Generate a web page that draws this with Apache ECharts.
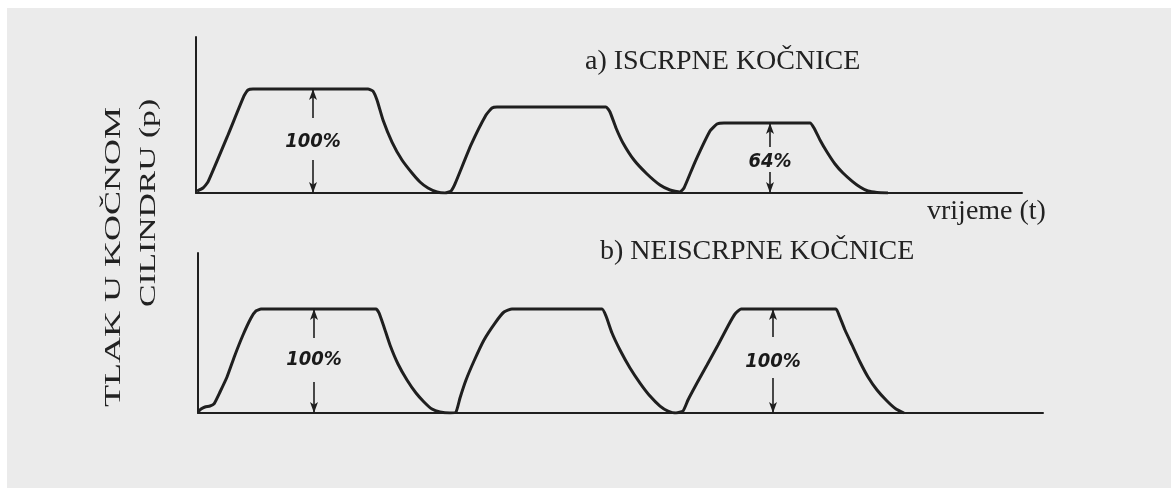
<!DOCTYPE html>
<html><head><meta charset="utf-8">
<script src="https://cdn.jsdelivr.net/npm/echarts@6/dist/echarts.min.js"></script>
<style>html,body{margin:0;padding:0;background:#fff}#c{width:1171px;height:491px}</style>
</head><body><div id="c"></div><script>
// a) ISCRPNE KOČNICE
const timeA = [0.1,0.7,1.2,3.2,4.8,5.2,5.7,17.2,17.7,18.1,18.7,19.6,20.6,21.6,22.4,23.2,24.1,24.9,25.5,25.9,27.5,29.0,29.6,30.1,41.0,41.4,42.0,42.7,43.8,45.1,46.4,47.4,48.4,48.8,49.9,51.4,52.1,52.8,61.4,61.8,62.4,63.1,63.9,64.7,65.6,66.4,67.2,68.1,69.2];
const pressA = [1.9,4.8,10.6,55.8,93.3,99,100,100,98,89.4,70.2,49.0,31.7,19.2,10.6,4.8,1.0,0,1.9,8.7,46.2,75.0,81.7,82.7,82.7,77.9,62.5,48.1,31.7,18.3,7.7,2.9,1.0,4.8,29.8,59.6,66.3,67.3,67.3,62.5,51.0,39.4,27.9,19.2,11.5,5.8,1.9,0.5,0];
// b) NEISCRPNE KOČNICE
const timeB = [0,0.3,0.7,1.2,1.6,2.2,2.9,3.7,4.5,5.3,5.8,6.3,17.8,18.1,18.6,19.2,20.0,20.9,21.8,22.6,23.4,24.2,25.2,25.8,26.2,26.8,27.6,28.6,29.7,30.6,31.4,40.4,40.8,41.4,42.2,43.2,44.2,45.2,46.2,47.0,47.8,48.5,49.0,49.9,50.9,52.0,53.0,53.7,54.3,63.8,64.1,64.7,65.4,66.2,67.0,67.9,68.9,69.8,70.6];
const pressB = [1,3.8,5.8,6.7,8.7,20.2,34.6,55.8,75.0,91.3,98.1,100,100,96.2,82.7,65.4,47.1,31.7,19.2,10.6,3.8,1.0,0,1.0,14.4,31.7,50.0,70.2,86.5,97.1,100,100,93.3,76.9,60.6,43.3,28.8,16.3,6.7,1.9,0,1.9,12.5,28.8,46.2,65.4,83.7,95.2,100,100,94.2,79.8,65.4,49.0,34.6,22.1,11.5,3.8,0];
// measurement arrows
const arrowTimeA = [11.7, 57.4];
const arrowTopA = [100, 67.3];
const gapHighA = [72, 44.2];
const gapLowA = [31.7, 20.2];
const labelPosA = [49, 30];
const labelsA = ['100%', '64%'];
const arrowTimeB = [11.6, 57.5];
const arrowTopB = [100, 100];
const gapHighB = [72, 73];
const gapLowB = [29.8, 33.7];
const labelPosB = [51, 49];
const labelsB = ['100%', '100%'];

const ink = '#1f1f1f';
function axisX(g, max) {
  return {type:'value', gridIndex:g, min:0, max:max,
    axisLine:{show:true, onZero:false, lineStyle:{color:ink, width:2}},
    axisTick:{show:false}, axisLabel:{show:false}, splitLine:{show:false}};
}
function axisY(g, max) {
  return {type:'value', gridIndex:g, min:0, max:max,
    axisLine:{show:true, lineStyle:{color:ink, width:2}},
    axisTick:{show:false}, axisLabel:{show:false}, splitLine:{show:false}};
}
function curve(g, t, p) {
  return {type:'line', xAxisIndex:g, yAxisIndex:g, data:t.map((v,i)=>[v,p[i]]),
    showSymbol:false, smooth:0.15, lineStyle:{color:ink, width:3}, z:3};
}
function arrows(g, t, top, hi, lo, lp, labs) {
  const md = [];
  t.forEach((x,i)=>{
    md.push([{coord:[x,hi[i]]},{coord:[x,top[i]]}]);
    md.push([{coord:[x,lo[i]]},{coord:[x,0]}]);
  });
  return {type:'scatter', xAxisIndex:g, yAxisIndex:g, symbolSize:0,
    itemStyle:{opacity:1, color:ink},
    data:t.map((x,i)=>({value:[x,lp[i]], label:{formatter:labs[i]}})),
    label:{show:true, position:'inside', fontFamily:'"DejaVu Sans Condensed", "DejaVu Sans"', fontStyle:'italic', fontWeight:'bold', fontSize:20, color:'#1a1a1a', opacity:1},
    markLine:{silent:true, symbol:['none','arrow'], symbolSize:[6,11], animation:false,
      lineStyle:{type:'solid', color:ink, width:1.6, opacity:1}, label:{show:false}, data:md}, z:4};
}
const serif = '"Liberation Serif", "DejaVu Serif", serif';
const chart = echarts.init(document.getElementById('c'));
chart.setOption({
  animation:false,
  backgroundColor:'transparent',
  graphic:[
    {type:'rect', z:-10, shape:{x:7, y:8, width:1164, height:480}, style:{fill:'#ebebeb'}},
    {type:'text', x:585, y:62, style:{text:'a) ISCRPNE KOČNICE', font:'28px '+serif, fill:'#222', textAlign:'left', textVerticalAlign:'middle'}},
    {type:'text', x:927, y:212, style:{text:'vrijeme (t)', font:'28px '+serif, fill:'#222', textAlign:'left', textVerticalAlign:'middle'}},
    {type:'text', x:600, y:252, style:{text:'b) NEISCRPNE KOČNICE', font:'28px '+serif, fill:'#222', textAlign:'left', textVerticalAlign:'middle'}},
    {type:'text', x:114, y:407, rotation:Math.PI/2, scaleX:1.5, style:{text:'TLAK U KOČNOM', font:'24px '+serif, fill:'#222', textAlign:'left', textVerticalAlign:'middle'}},
    {type:'text', x:149, y:307, rotation:Math.PI/2, scaleX:1.4, style:{text:'CILINDRU (p)', font:'24px '+serif, fill:'#222', textAlign:'left', textVerticalAlign:'middle'}}
  ],
  grid:[{left:196, top:37, width:826, height:156}, {left:198, top:253, width:845, height:160}],
  xAxis:[axisX(0, 82.6), axisX(1, 84.5)],
  yAxis:[axisY(0, 150), axisY(1, 153.85)],
  series:[
    curve(0, timeA, pressA),
    curve(1, timeB, pressB),
    arrows(0, arrowTimeA, arrowTopA, gapHighA, gapLowA, labelPosA, labelsA),
    arrows(1, arrowTimeB, arrowTopB, gapHighB, gapLowB, labelPosB, labelsB)
  ]
});
</script></body></html>
